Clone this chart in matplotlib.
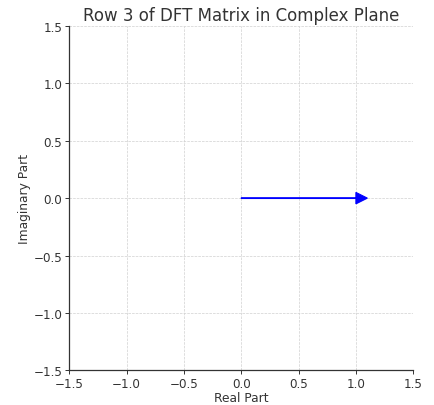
import numpy as np
import matplotlib.pyplot as plt

# Row 3 entries (all land on 1 + 0j)
real_parts = [1.0]
imag_parts = [0.0]

fig = plt.figure(figsize=(4.35, 4.06), dpi=100)
ax = fig.add_axes([0.159, 0.085, 0.791, 0.849])

for re, im in zip(real_parts, imag_parts):
    ax.arrow(0, 0, re, im, head_width=0.1, head_length=0.1,
             fc='blue', ec='blue', width=0.006, linewidth=0.8, zorder=3)

ax.set_xlim(-1.5, 1.5)
ax.set_ylim(-1.5, 1.5)
ax.set_xticks(np.arange(-1.5, 1.51, 0.5))
ax.set_yticks(np.arange(-1.5, 1.51, 0.5))
ax.grid(True, linestyle='--', color='#d0d0d0', linewidth=0.5)
ax.spines['top'].set_visible(False)
ax.spines['right'].set_visible(False)
for s in ('left', 'bottom'):
    ax.spines[s].set_color('#333333')
    ax.spines[s].set_linewidth(0.9)
ax.tick_params(colors='#333333', labelsize=8.6, length=3, width=0.7, pad=2)
ax.set_xlabel('Real Part', color='#333333', fontsize=8.8, labelpad=0.5)
ax.set_ylabel('Imaginary Part', color='#333333', fontsize=8.8, labelpad=2)
ax.set_title('Row 3 of DFT Matrix in Complex Plane', fontsize=12, color='#333333', pad=4)

fig.savefig('out.png', dpi=100)
